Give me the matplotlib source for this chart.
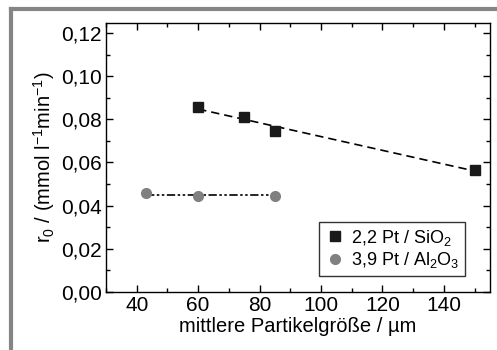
import numpy as np
import matplotlib
matplotlib.use('Agg')
import matplotlib.pyplot as plt
from matplotlib.lines import Line2D
from matplotlib.ticker import MultipleLocator, FuncFormatter

plt.rcParams['font.family'] = ['Liberation Sans', 'DejaVu Sans']
plt.rcParams['mathtext.fontset'] = 'custom'
plt.rcParams['mathtext.rm'] = 'Liberation Sans'
plt.rcParams['mathtext.it'] = 'Liberation Sans'

# Daten
sio2_x = [60, 75, 85, 150]
sio2_y = [0.0855, 0.081, 0.0745, 0.0565]
al2o3_x = [43, 60, 85]
al2o3_y = [0.046, 0.0445, 0.0445]

fig = plt.figure(figsize=(4.97, 3.5), dpi=100)
ax = fig.add_axes([106 / 497, 1 - 292 / 350, 384 / 497, 269 / 350])

# Rahmen (grau)
fig.add_artist(Line2D([11 / 497, 1], [1 - 9 / 350, 1 - 9 / 350], color='#858585', lw=3))
fig.add_artist(Line2D([11 / 497, 11 / 497], [0, 1 - 9 / 350], color='#858585', lw=3))

# lineare Anpassung
p = np.polyfit(sio2_x, sio2_y, 1)
xs = np.array([min(sio2_x), max(sio2_x)])
ax.plot(xs, np.polyval(p, xs), color='black', ls=(0, (5, 3)), lw=1.2)
ax.plot([min(al2o3_x), max(al2o3_x)], [np.mean(al2o3_y)] * 2, color='black',
        ls=(0, (5, 1.5, 1.5, 1.5, 1.5, 1.5)), lw=1.2)

ax.plot(sio2_x, sio2_y, 's', color='#1a1a1a', ms=7, label='2,2 Pt / SiO$_2$')
ax.plot(al2o3_x, al2o3_y, 'o', color='#808080', ms=7, label='3,9 Pt / Al$_2$O$_3$')

ax.set_xlim(30, 155)
ax.set_ylim(0, 0.1246)
ax.xaxis.set_major_locator(MultipleLocator(20))
ax.xaxis.set_minor_locator(MultipleLocator(10))
ax.yaxis.set_major_locator(MultipleLocator(0.02))
ax.yaxis.set_minor_locator(MultipleLocator(0.01))
ax.yaxis.set_major_formatter(FuncFormatter(lambda v, _: f'{v:.2f}'.replace('.', ',')))
ax.tick_params(which='both', direction='in', top=True, right=True, labelsize=15, width=1)
ax.tick_params(which='major', length=5, pad=3)
ax.tick_params(which='minor', length=3)
for s in ax.spines.values():
    s.set_linewidth(1)

ax.set_xlabel('mittlere Partikelgröße / µm', fontsize=14.5, labelpad=1)
ax.set_ylabel('r$_0$ / (mmol l$^{-1}$min$^{-1}$)', fontsize=14.5, labelpad=3)

leg = ax.legend(loc='lower right', fontsize=13, frameon=True, fancybox=False,
                edgecolor='black', handletextpad=0.3, borderpad=0.3,
                handlelength=1.2, labelspacing=0.15, borderaxespad=0,
                bbox_to_anchor=(0.935, 0.06))
leg.get_frame().set_linewidth(1)

fig.savefig('out.png', dpi=100)
